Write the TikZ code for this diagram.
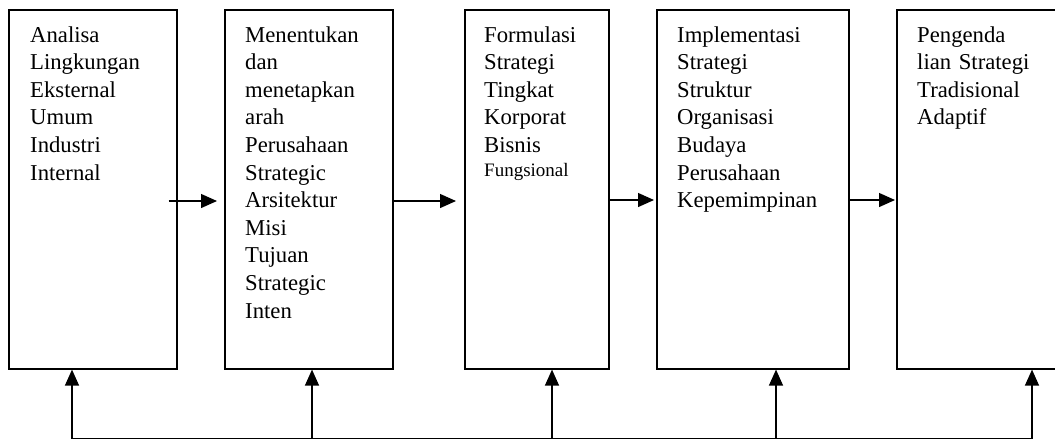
\documentclass[tikz,border=0pt]{standalone}
\usepackage{fontspec}
\setmainfont{Liberation Serif}
\usetikzlibrary{arrows.meta}
\begin{document}
\begin{tikzpicture}[x=1pt,y=-1pt,
  box/.style={draw,line width=1.6pt,rectangle,inner sep=0pt,anchor=north west,minimum height=359pt},
  txt/.style={anchor=base west,inner sep=0pt,text width=220pt,align=left,font=\fontsize{22.7}{27.6}\selectfont},
  arr/.style={line width=1.3pt,-{Triangle[length=16pt,width=14pt]}}]
\useasboundingbox (0,0) rectangle (1055,440);
\clip (0,0) rectangle (1055,440);
\fill[white] (0,0) rectangle (1055,440);
% boxes
\node[box,minimum width=168pt] (b1) at (8,9) {};
\node[box,minimum width=168pt] (b2) at (224,9) {};
\node[box,minimum width=144pt] (b3) at (464,9) {};
\node[box,minimum width=192pt] (b4) at (656,9) {};
\node[box,minimum width=190pt] (b5) at (896,9) {};
% texts
\node[txt] (t1) at (30,42) {Analisa\\Lingkungan\\Eksternal\\Umum\\Industri\\Internal};
\node[txt] (t2) at (245,42) {Menentukan\\dan\\menetapkan\\arah\\Perusahaan\\Strategic\\Arsitektur\\Misi\\Tujuan\\Strategic\\Inten};
\node[txt] (t3) at (484,42) {Formulasi\\Strategi\\Tingkat\\Korporat\\Bisnis\\[-4pt]{\fontsize{19}{23}\selectfont Fungsional}};
\node[txt] (t4) at (677,42) {Implementasi\\Strategi\\Struktur\\Organisasi\\Budaya\\Perusahaan\\Kepemimpinan};
\node[txt] (t5) at (917,42) {Pengenda\\lian Strategi\\Tradisional\\Adaptif};
% forward arrows
\draw[arr,shorten >=7pt] ([xshift=-9pt]b1.east |- 0,201) -- (b2.west |- 0,201);
\draw[arr,shorten >=8pt] (b2.east |- 0,201) -- (b3.west |- 0,201);
\draw[arr,shorten >=2pt] (b3.east |- 0,200) -- (b4.west |- 0,200);
\draw[arr,shorten >=1pt] (b4.east |- 0,200) -- (b5.west |- 0,200);
% feedback
\coordinate (f1) at (72,438.5);
\coordinate (f2) at (312,438.5);
\coordinate (f3) at (552,438.5);
\coordinate (f4) at (776,438.5);
\coordinate (f5) at (1032,438.5);
\draw[line width=1.1pt] (f1) -- (f5);
\draw[arr] (f1) -- (f1 |- b1.south);
\draw[arr] (f2) -- (f2 |- b2.south);
\draw[arr] (f3) -- (f3 |- b3.south);
\draw[arr] (f4) -- (f4 |- b4.south);
\draw[arr] (f5) -- (f5 |- b5.south);
\end{tikzpicture}
\end{document}
